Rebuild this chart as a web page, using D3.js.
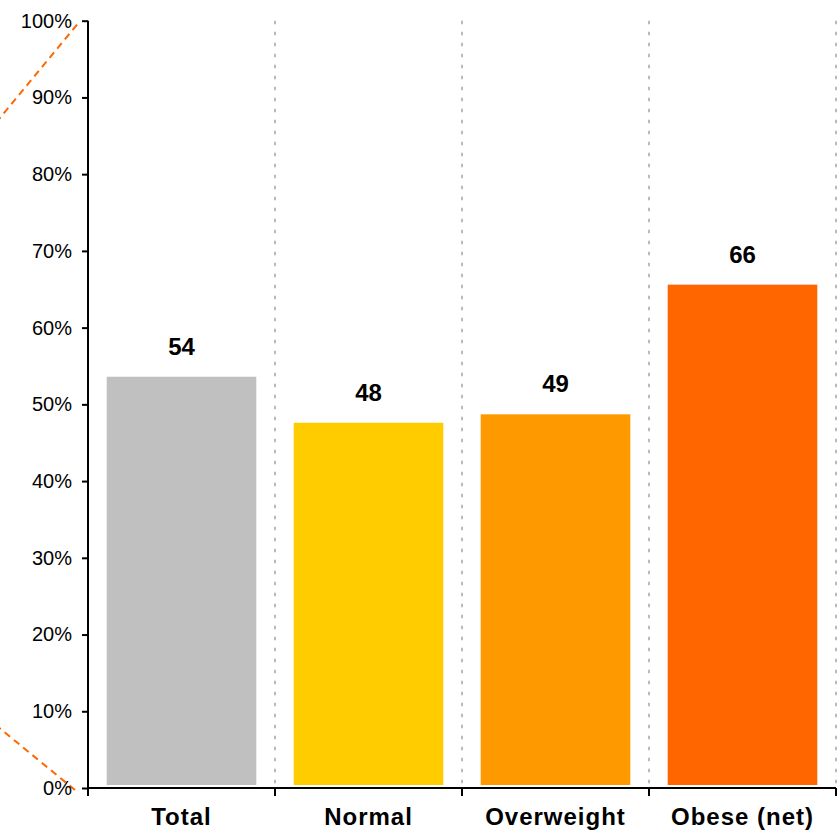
<!DOCTYPE html>
<html>
<head>
<meta charset="utf-8">
<script src="https://cdn.jsdelivr.net/npm/d3@7/dist/d3.min.js"></script>
<style>
  html, body { margin: 0; padding: 0; background: #fff; }
  svg { display: block; font-family: Arial, "Liberation Sans", Helvetica, sans-serif; }
</style>
</head>
<body>
<script>
// Share of respondents by weight group (percent)
const categories = ["Total", "Normal", "Overweight", "Obese (net)"];
const values = [53.6, 47.6, 48.7, 65.6];
const colors = ["#C0C0C0", "#FFCC00", "#FF9900", "#FF6600"];
const yTicks = [0, 10, 20, 30, 40, 50, 60, 70, 80, 90, 100];

const width = 838, height = 832;
const margin = { top: 20.7, right: 2, bottom: 44, left: 88 };

const svg = d3.select("body").append("svg")
  .attr("width", width)
  .attr("height", height);

const x = d3.scaleBand()
  .domain(categories)
  .range([margin.left, width - margin.right])
  .paddingInner(0.2)
  .paddingOuter(0.1);

const y = d3.scaleLinear()
  .domain([0, 100])
  .range([height - margin.bottom, margin.top]);

const step = x.step();
const bandStart = d => margin.left + categories.indexOf(d) * step;

// Dotted separators between groups
const sepX = categories.map((d, i) => margin.left + (i + 1) * step);
svg.append("g").selectAll("line")
  .data(sepX)
  .join("line")
  .attr("x1", d => d).attr("x2", d => d)
  .attr("y1", y(100)).attr("y2", y(0))
  .attr("stroke", "#BBBBBB")
  .attr("stroke-width", 2)
  .attr("stroke-dasharray", "3.5,7.5");

// Orange dashed connector lines on the left
const connectors = [
  { x1: margin.left - 11, y1: y(100) + 4, slope: -1.21 },
  { x1: margin.left - 13, y1: y(0) + 2, slope: 0.82 }
];
svg.append("g").selectAll("line")
  .data(connectors)
  .join("line")
  .attr("x1", d => d.x1).attr("y1", d => d.y1)
  .attr("x2", -10).attr("y2", d => d.y1 + d.slope * (-10 - d.x1))
  .attr("stroke", "#FF6600")
  .attr("stroke-width", 2)
  .attr("stroke-dasharray", "7,5");

// Bars
svg.append("g").selectAll("rect")
  .data(categories)
  .join("rect")
  .attr("x", d => x(d))
  .attr("width", x.bandwidth())
  .attr("y", (d, i) => y(values[i]))
  .attr("height", (d, i) => y(0) - y(values[i]) - 3)
  .attr("fill", (d, i) => colors[i]);

// Value labels
svg.append("g").selectAll("text")
  .data(categories)
  .join("text")
  .attr("x", d => x(d) + x.bandwidth() / 2)
  .attr("y", (d, i) => y(values[i]) - 22)
  .attr("text-anchor", "middle")
  .attr("font-size", 24)
  .attr("font-weight", "bold")
  .attr("fill", "#000")
  .text((d, i) => d3.format(".0f")(values[i]));

// Y axis
const yAxis = svg.append("g")
  .attr("transform", `translate(${margin.left},0)`)
  .call(d3.axisLeft(y).tickValues(yTicks).tickFormat(d => d + "%").tickSize(6).tickPadding(10));
yAxis.select(".domain").attr("stroke", "#000").attr("stroke-width", 2)
  .attr("d", `M0,${y(100)}V${y(0) + 8}`);
yAxis.selectAll(".tick line").attr("stroke", "#000").attr("stroke-width", 2);
yAxis.selectAll(".tick text")
  .attr("font-size", 20)
  .attr("font-family", "Arial, 'Liberation Sans', sans-serif")
  .attr("fill", "#000");

// X axis baseline and boundary ticks
const xg = svg.append("g");
xg.append("line")
  .attr("x1", margin.left).attr("x2", width - margin.right)
  .attr("y1", y(0)).attr("y2", y(0))
  .attr("stroke", "#000").attr("stroke-width", 2);
xg.selectAll("line.btick")
  .data([margin.left].concat(sepX))
  .join("line")
  .attr("class", "btick")
  .attr("x1", d => d).attr("x2", d => d)
  .attr("y1", y(0)).attr("y2", y(0) + 8)
  .attr("stroke", "#000").attr("stroke-width", 2);

// Category labels
xg.selectAll("text")
  .data(categories)
  .join("text")
  .attr("x", d => x(d) + x.bandwidth() / 2)
  .attr("y", y(0) + 37)
  .attr("text-anchor", "middle")
  .attr("font-size", 24)
  .attr("font-weight", "bold")
  .attr("letter-spacing", 1)
  .attr("fill", "#000")
  .text(d => d);
</script>
</body>
</html>
